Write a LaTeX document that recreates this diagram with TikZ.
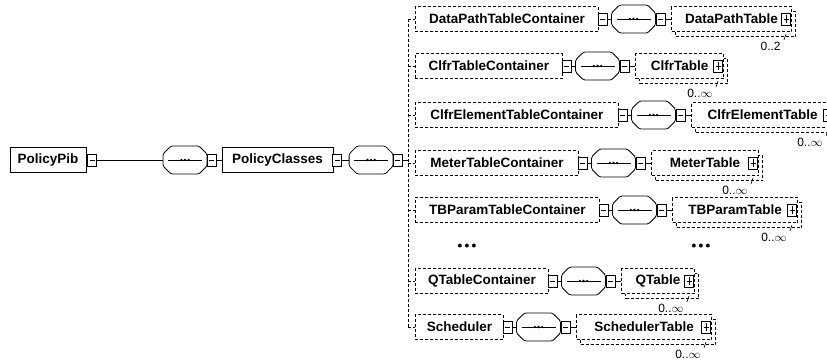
\documentclass[tikz,border=0pt]{standalone}
\usepackage{fontspec}
\setmainfont{Liberation Sans}
\usetikzlibrary{shadows}

\tikzset{
  elem/.style={draw, fill=white, inner sep=0pt, minimum height=25pt,
    font=\fontsize{13.5}{15}\selectfont\bfseries},
  optelem/.style={elem, dash pattern=on 3pt off 2pt},
  multi/.style={general shadow={draw, fill=white, dash pattern=on 3pt off 2pt,
    shadow xshift=4pt, shadow yshift=-5pt}},
  expander/.style={draw, fill=white, solid, minimum width=9pt, minimum height=12pt,
    inner sep=0pt, line width=0.7pt},
  collapse/.style={expander, path picture={
    \draw[line width=0.7pt] ([xshift=2pt]path picture bounding box.west)
      -- ([xshift=-2pt]path picture bounding box.east);}},
  expand/.style={expander, path picture={
    \draw[line width=0.7pt] ([xshift=2pt]path picture bounding box.west)
      -- ([xshift=-2pt]path picture bounding box.east)
      ([yshift=2pt]path picture bounding box.south)
      -- ([yshift=-2pt]path picture bounding box.north);}},
  % sequence compositor: chamfered outline with a dotted bar inside
  sequence/.style={minimum width=44pt, minimum height=28pt, inner sep=0pt, outer sep=0pt,
    append after command={\pgfextra{
      \draw[line width=0.8pt, solid, rounded corners=1.5pt]
        ([xshift=8pt]\tikzlastnode.north west) -- ([xshift=-8pt]\tikzlastnode.north east)
        -- ([yshift=-8pt]\tikzlastnode.north east) -- ([yshift=8pt]\tikzlastnode.south east)
        -- ([xshift=-8pt]\tikzlastnode.south east) -- ([xshift=8pt]\tikzlastnode.south west)
        -- ([yshift=8pt]\tikzlastnode.south west) -- ([yshift=-8pt]\tikzlastnode.north west)
        -- cycle;
      \draw[line width=0.7pt, solid] ([xshift=5pt]\tikzlastnode.west)
        -- ([xshift=-5pt]\tikzlastnode.east);
      \foreach \d in {-3.6,0,3.6}
        \fill ([xshift=\d pt]\tikzlastnode.center) circle (1.3pt);
    }}},
  link/.style={line width=0.8pt},
  optlink/.style={line width=0.8pt, dash pattern=on 3pt off 2pt},
  occurs/.style={font=\fontsize{12}{13}\selectfont, inner sep=0pt},
  gapdots/.style={font=\fontsize{13.5}{15}\selectfont\bfseries, inner sep=0pt},
}

% one optional child: container, sequence, repeated table and its occurrence range
\newcommand\schemarow[7]{%
  \coordinate (v#1) at (408,#2);
  \node[optelem, anchor=west, minimum width=#3pt] (c#1) at (415,#2) {#4};
  \node[collapse, anchor=west] (cx#1) at ([xshift=-1pt]c#1.east) {};
  \node[sequence, anchor=west] (s#1) at ([xshift=4pt]cx#1.east) {};
  \node[collapse, anchor=west] (sx#1) at (s#1.east) {};
  \node[optelem, multi, anchor=west, minimum width=#5pt] (t#1)
    at ([xshift=6pt]sx#1.east) {#6\hspace{14pt}};
  \node[expand, anchor=east] (tx#1) at ([xshift=-1pt]t#1.east) {};
  \node[occurs, anchor=north east] (o#1) at ([shift={(-11pt,-10pt)}]t#1.south east) {#7};
  \draw[optlink] (v#1) -- (c#1.west);
  \draw[link] (cx#1) -- (s#1);
  \draw[link] (sx#1) -- (t#1);
  \draw[line width=0.6pt] ([shift={(-6pt,-2pt)}]t#1.south east) -- ++(-2pt,-6pt);
}

\begin{document}
\begin{tikzpicture}[x=1pt, y=-1pt, line width=0.8pt]
  \useasboundingbox (0,0) rectangle (827,362);

  % root element and its sequence
  \node[elem, minimum width=76pt] (pib) at (48,160) {PolicyPib};
  \node[collapse, anchor=west] (pibx) at ([xshift=1pt]pib.east) {};
  \node[sequence] (s0) at (185,160) {};
  \node[collapse, anchor=west] (s0x) at (s0.east) {};
  \node[elem, minimum width=111pt] (pc) at (277.5,160) {PolicyClasses};
  \node[collapse, anchor=west] (pcx) at ([xshift=-1pt]pc.east) {};
  \node[sequence, anchor=west] (pcs) at ([xshift=7pt]pcx.east) {};
  \node[collapse, anchor=west] (pcsx) at (pcs.east) {};
  \coordinate (vmain) at (408,160);

  \draw[link] (pibx) -- (s0);
  \draw[link] (s0x) -- (pc);
  \draw[link] (pcx) -- (pcs);
  \draw[link] (pcsx) -- (vmain);

  % children of PolicyClasses
  \schemarow{1}{19}{183}{DataPathTableContainer}{120}{DataPathTable}{0..2}
  \schemarow{2}{66}{147}{ClfrTableContainer}{88}{ClfrTable}{0..$\infty$}
  \schemarow{3}{115}{203}{ClfrElementTableContainer}{142}{ClfrElementTable}{0..$\infty$}
  \schemarow{4}{163}{163}{MeterTableContainer}{107}{MeterTable}{0..$\infty$}
  \schemarow{5}{210}{184}{TBParamTableContainer}{125}{TBParamTable}{0..$\infty$}
  \schemarow{6}{281}{133}{QTableContainer}{73}{QTable}{0..$\infty$}
  \schemarow{7}{327}{88}{Scheduler}{135}{SchedulerTable}{0..$\infty$}

  \draw[optlink] (v1) -- (v7);

  % elided children
  \node[gapdots] (gapL) at (467,247) {\textbullet\,\textbullet\,\textbullet};
  \node[gapdots] (gapR) at (701,247) {\textbullet\,\textbullet\,\textbullet};
\end{tikzpicture}
\end{document}
